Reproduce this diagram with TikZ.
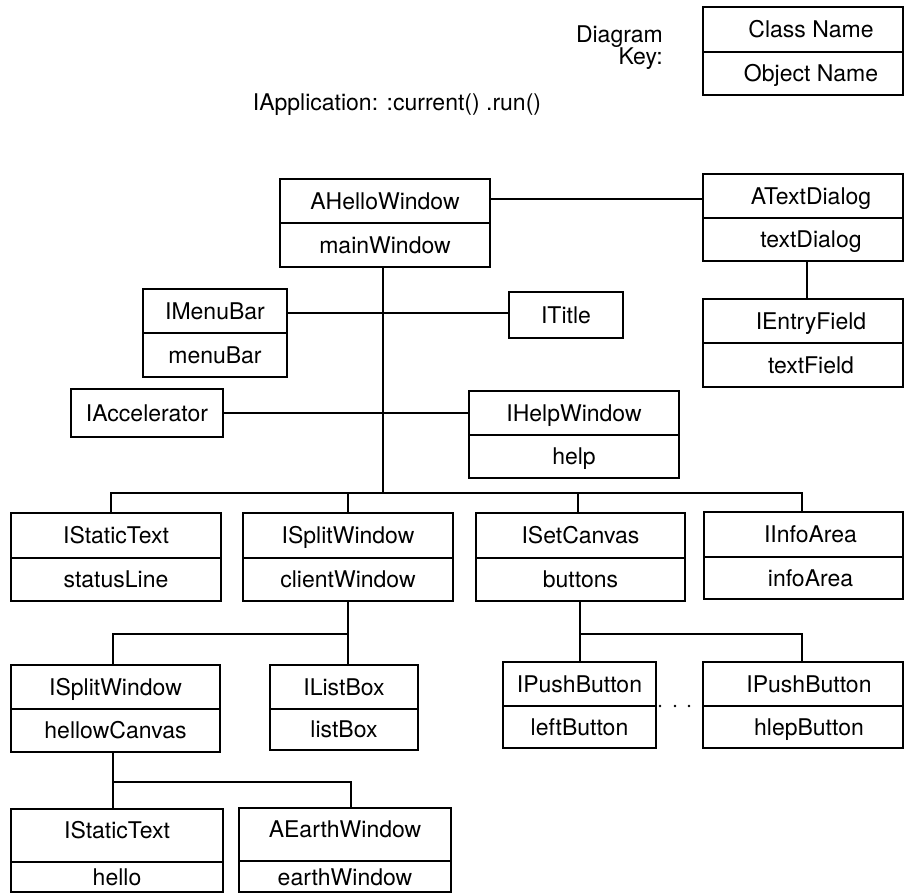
\documentclass[tikz,border=0pt]{standalone}
\usepackage{fontspec}
\setmainfont{TeX Gyre Heros}
\usetikzlibrary{fit}

\tikzset{
  objframe/.style={draw=black, line width=2.4pt, inner sep=0pt, outer sep=0pt},
  divider/.style={draw=black, line width=1.2pt},
  link/.style={draw=black, line width=1.2pt},
  txt/.style={font=\fontsize{23}{28}\selectfont, inner sep=0pt, text height=16.5pt, text depth=0pt, anchor=center},
}

% two-part object box: [text options], name, x1, y1, x2, ydiv, y2, class, object
\newcommand\objbox[9][]{%
  \node[objframe, fit={(#3,#4) (#5,#7)}] (#2) {};
  \draw[divider] (#3,#6) -- (#5,#6);
  \node[txt,#1] (#2-cls) at ({(#3+#5)/2},{(#4+#6)/2}) {#8};
  \node[txt,#1] (#2-obj) at ({(#3+#5)/2},{(#6+#7)/2}) {#9};
}
% one-part box: name, x1, y1, x2, y2, class
\newcommand\clsbox[6]{%
  \node[objframe, fit={(#2,#3) (#4,#5)}] (#1) {};
  \node[txt] (#1-cls) at ({(#2+#4)/2},{(#3+#5)/2}) {#6};
}

\begin{document}
\begin{tikzpicture}[x=1pt, y=-1pt]
\useasboundingbox (0,0) rectangle (905,894);
\clip (0,0) rectangle (905,894);

% key
\node[txt, anchor=base east] (keylbl1) at (663,42) {Diagram};
\node[txt, anchor=base east] (keylbl2) at (663,64) {Key:};
\objbox[xshift=8pt]{key}{703}{7}{903}{52}{95}{Class Name}{Object Name}

\node[txt] (app) at (397,102) {IApplication: :current() .run()};

% top level
\objbox{main}{280}{179}{490}{223}{267}{AHelloWindow}{mainWindow}
\objbox[xshift=8pt]{tdlg}{703}{174}{903}{218}{261}{ATextDialog}{textDialog}
\objbox[xshift=8pt]{entry}{703}{299}{903}{343}{387}{IEntryField}{textField}
\objbox{menu}{143}{289}{287}{333}{377}{IMenuBar}{menuBar}
\clsbox{ititle}{509}{292}{623}{338}{ITitle}
\clsbox{accel}{71}{389}{223}{437}{IAccelerator}
\objbox{help}{469}{391}{679}{435}{478}{IHelpWindow}{help}

% children of the main window
\objbox{status}{11}{513}{221}{558}{601}{IStaticText}{statusLine}
\objbox{client}{243}{513}{453}{558}{601}{ISplitWindow}{clientWindow}
\objbox{canvas}{476}{513}{685}{558}{601}{ISetCanvas}{buttons}
\objbox[xshift=7pt]{info}{704}{512}{903}{557}{599}{IInfoArea}{infoArea}

% children of the client window
\objbox{hcanvas}{11}{665}{220}{709}{752}{ISplitWindow}{hellowCanvas}
\objbox{lbox}{270}{665}{418}{709}{750}{IListBox}{listBox}

% push buttons
\objbox{pbleft}{503}{662}{656}{706}{748}{IPushButton}{leftButton}
\objbox[xshift=6pt]{pbhelp}{703}{662}{903}{706}{748}{IPushButton}{hlepButton}
\fill (660,706) circle (1.3) (675,706) circle (1.3) (689,706) circle (1.3);

% children of the hello canvas
\node[objframe, fit={(11,809) (223,892)}] (hello) {};
\draw[divider] (11,862) -- (223,862);
\node[txt] (hello-cls) at (117,830) {IStaticText};
\node[txt] (hello-obj) at (117,877) {hello};
\node[objframe, fit={(239,808) (451,892)}] (earth) {};
\draw[divider] (239,861) -- (451,861);
\node[txt] (earth-cls) at (345,829) {AEarthWindow};
\node[txt] (earth-obj) at (345,877) {earthWindow};

% connectors
\draw[link] (main.east |- 0,199) -- (tdlg.west |- 0,199);
\draw[link] (tdlg.south -| 807,0) -- (entry.north -| 807,0);
\draw[link] (menu.east |- 0,313) -- (ititle.west |- 0,313);
\draw[link] (accel.east) -- (help.west |- accel.east);

\coordinate (trunk) at (383,493);
\draw[link] (main.south -| trunk) -- (trunk);
\draw[link] (status.north -| 111,0) |- (802,493) -- (info.north -| 802,0);
\draw[link] (client.north -| 348,0) -- (348,493);
\draw[link] (canvas.north -| 578,0) -- (578,493);

\draw[link] (client.south -| 348,0) -- (348,634);
\draw[link] (hcanvas.north -| 113,0) |- (348,634) -- (lbox.north -| 348,0);

\draw[link] (canvas.south -| 580,0) -- (580,634);
\draw[link] (pbleft.north -| 580,0) |- (802,634) -- (pbhelp.north -| 802,0);

\draw[link] (hcanvas.south -| 113,0) -- (113,782);
\draw[link] (hello.north -| 113,0) |- (351,782) -- (earth.north -| 351,0);
\end{tikzpicture}
\end{document}
